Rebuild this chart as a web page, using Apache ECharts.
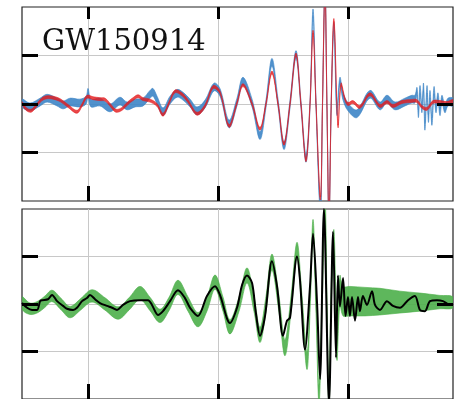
<!DOCTYPE html>
<html>
<head>
<meta charset="utf-8">
<script src="https://cdn.jsdelivr.net/npm/echarts@6/dist/echarts.min.js"></script>
<style>
  html, body { margin: 0; padding: 0; background: #fff; }
  #main { width: 465px; height: 399px; }
</style>
</head>
<body>
<div id="main"></div>
<script>
// time axis in ms (ticks only, labels are cut off in the figure)
const xTicks = [-200, -100, 0]
const yTicks = [-1, 0, 1]

// top panel, red trace
const redT = [-250.8, -247.7, -243.8, -240.0, -235.4, -231.5, -226.9, -221.5, -215.4, -208.5,
  -204.6, -200.8, -196.2, -190.8, -186.9, -182.3, -178.5, -173.8, -169.2, -165.4,
  -161.5, -157.7, -152.3, -146.9, -142.3, -137.7, -133.1, -127.7, -123.1, -116.2,
  -110.0, -103.8, -98.5, -91.5, -85.4, -80.8, -73.8, -67.7, -63.1, -58.5,
  -53.8, -49.2, -44.6, -40.0, -36.2, -32.3, -29.2, -26.9, -24.6, -21.2,
  -19.6, -17.7, -16.2, -14.6, -12.9, -10.8, -7.7, -5.4, -2.3, 0.0,
  3.8, 9.2, 16.9, 24.6, 30.0, 34.6, 41.5, 47.7, 53.1, 56.9,
  60.8, 65.4, 70.8, 76.2, 80.8]
const redY = [0.02, -0.10, -0.14, -0.04, 0.10, 0.14, 0.13, 0.08, -0.04, -0.16,
  -0.02, 0.15, 0.12, 0.10, 0.09, -0.04, -0.14, -0.10, 0.02, 0.10,
  0.16, 0.10, 0.07, -0.02, -0.22, 0.02, 0.26, 0.20, 0.06, -0.20,
  -0.04, 0.35, 0.24, -0.45, 0.02, 0.39, 0.00, -0.51, 0.00, 0.65,
  0.00, -0.82, 0.00, 1.02, 0.00, -1.16, 0.00, 1.49, 0.00, -1.95,
  0.00, 2.4, 0.00, -2.4, 0.00, 1.73, -0.45, 0.40, 0.10, 0.00,
  0.04, -0.06, 0.20, -0.04, 0.04, -0.04, 0.04, 0.06, 0.06, -0.06,
  -0.10, 0.04, 0.04, 0.02, 0.06]

// top panel, blue band (centre)
const blueT = [-250.8, -244.6, -236.9, -231.5, -223.8, -219.2, -213.8, -206.2, -201.5, -200.0,
  -197.7, -190.8, -183.1, -175.4, -170.0, -163.8, -157.7, -152.3, -150.0, -146.9,
  -142.3, -136.9, -131.5, -126.9, -121.5, -116.2, -110.0, -103.1, -98.5, -91.5,
  -85.4, -80.8, -73.8, -67.7, -63.1, -58.5, -53.8, -49.2, -44.6, -40.0,
  -36.2, -32.3, -29.2, -26.9, -24.6, -21.2, -19.6, -17.7, -16.2, -14.6,
  -12.9, -10.8, -8.5, -6.2, -3.8, 0.0, 6.9, 16.9, 24.6, 30.0,
  36.2, 43.8, 49.2, 51.5, 53.1, 54.2, 55.4, 56.9, 58.1, 59.2,
  60.8, 61.9, 63.1, 64.6, 66.2, 67.7, 69.2, 70.8, 72.3, 74.6,
  76.9, 80.8]
const blueY = [0.02, -0.06, 0.04, 0.12, 0.04, -0.02, 0.04, 0.02, 0.08, 0.24,
  0.02, 0.04, -0.08, 0.06, -0.04, 0.02, 0.04, 0.20, 0.24, 0.08,
  -0.16, 0.08, 0.22, 0.16, 0.02, -0.14, 0.00, 0.35, 0.24, -0.41,
  0.04, 0.47, 0.02, -0.65, 0.00, 0.86, 0.02, -0.86, 0.00, 1.02,
  0.00, -1.12, 0.00, 1.88, 0.00, -2.2, 0.00, 2.4, 0.00, -2.4,
  0.00, 1.6, -0.15, 0.47, 0.16, -0.06, -0.20, 0.20, -0.04, 0.10,
  -0.04, 0.04, 0.10, 0.10, 0.26, -0.20, 0.30, -0.10, 0.35, -0.46,
  0.30, -0.30, 0.20, -0.36, 0.28, -0.10, 0.15, -0.16, 0.10, -0.10,
  0.04, 0.04]

// bottom panel, green band (centre and half width)
const greenT = [-250.8, -244.6, -238.5, -233.1, -227.7, -220.8, -213.8, -205.4, -196.9, -186.9,
  -176.9, -168.5, -160.0, -152.3, -144.6, -137.7, -130.8, -123.1, -115.4, -108.5,
  -102.3, -96.2, -90.8, -83.8, -77.7, -72.3, -67.7, -63.1, -58.5, -53.1,
  -48.5, -43.8, -39.2, -35.4, -31.5, -29.2, -26.9, -24.6, -22.3, -20.0,
  -17.7, -16.2, -14.6, -13.1, -10.8, -8.5, -6.2, -3.8, 1.5, 13.1,
  24.6, 40.0, 55.4, 70.8, 80.8]
const greenY = [0.02, -0.10, -0.06, 0.05, 0.17, 0.00, -0.17, 0.00, 0.17, 0.00,
  -0.19, 0.00, 0.23, 0.00, -0.25, 0.00, 0.35, 0.00, -0.33, 0.00,
  0.46, 0.00, -0.48, 0.00, 0.60, 0.00, -0.65, 0.00, 0.88, 0.00,
  -0.92, 0.00, 1.13, 0.00, -1.2, 0.00, 1.6, 0.00, -1.9, 0.00,
  2.1, 0.00, -2.1, 0.00, 1.3, -0.9, 0.3, 0.06, 0.06, 0.05,
  0.05, 0.04, 0.04, 0.04, 0.035]
const greenW = [0.13, 0.12, 0.12, 0.12, 0.12, 0.12, 0.12, 0.12, 0.13, 0.13,
  0.13, 0.13, 0.14, 0.14, 0.14, 0.14, 0.15, 0.15, 0.15, 0.15,
  0.15, 0.15, 0.15, 0.15, 0.16, 0.16, 0.16, 0.16, 0.17, 0.17,
  0.17, 0.17, 0.17, 0.18, 0.18, 0.18, 0.18, 0.2, 0.2, 0.2,
  0.2, 0.2, 0.22, 0.24, 0.26, 0.28, 0.3, 0.31, 0.31, 0.30,
  0.28, 0.23, 0.19, 0.14, 0.115]

// bottom panel, black trace
const blackT = [-250.8, -246.9, -243.1, -239.2, -236.9, -235.4, -230.8, -227.7, -223.8, -219.2,
  -216.2, -211.5, -208.5, -204.6, -200.8, -198.5, -194.6, -190.8, -185.4, -181.5,
  -177.7, -173.1, -167.7, -160.0, -153.8, -150.8, -146.2, -142.3, -136.9, -130.8,
  -125.4, -121.5, -115.4, -108.5, -102.3, -98.5, -90.8, -85.4, -81.5, -77.7,
  -73.8, -70.8, -67.7, -63.8, -58.5, -54.6, -50.0, -46.9, -44.6, -39.2,
  -36.9, -33.1, -29.2, -26.9, -23.8, -21.5, -18.5, -14.6, -11.5, -9.2,
  -7.7, -6.2, -3.8, -1.9, 0.0, 1.5, 3.1, 5.4, 7.7, 9.2,
  11.5, 14.6, 18.5, 20.8, 24.6, 30.0, 34.6, 40.0, 46.2, 51.5,
  55.4, 59.2, 63.1, 68.5, 73.1, 78.5, 80.8]
const blackY = [0.02, -0.08, -0.125, -0.125, 0.06, 0.08, 0.10, 0.19, 0.06, -0.04,
  -0.10, -0.125, -0.08, 0.06, 0.125, 0.19, 0.10, 0.02, -0.04, -0.08,
  -0.125, -0.02, 0.06, 0.08, 0.08, -0.02, -0.23, -0.15, 0.06, 0.29,
  0.125, -0.08, -0.25, 0.17, 0.375, 0.19, -0.40, -0.08, 0.40, 0.60,
  0.44, -0.2, -0.67, -0.25, 0.90, 0.375, -0.67, -0.35, -0.29, 1.0,
  0.5, -0.96, 0.375, 1.48, 0.02, -1.58, 2.0, -2.1, 1.52, -1.125,
  0.6, -0.05, 0.55, -0.25, 0.15, -0.25, 0.15, -0.35, 0.15, -0.15,
  0.17, -0.02, 0.27, -0.02, -0.125, 0.06, -0.04, -0.08, 0.08, 0.17,
  -0.125, -0.15, 0.06, 0.08, 0.06, -0.02, 0.0]

const blueHalf = 0.08
const redHalf = 0.03

function band (ts, ys, half, color, opacity, xi, yi, z) {
  return {
    type: 'custom',
    xAxisIndex: xi,
    yAxisIndex: yi,
    clip: true,
    z: z,
    silent: true,
    data: [[0, 0]],
    renderItem: function (params, api) {
      let up = []
      let lo = []
      for (let i = 0; i < ts.length; i++) {
        let w = Array.isArray(half) ? half[i] : half
        up.push(api.coord([ts[i], ys[i] + w]))
        lo.push(api.coord([ts[i], ys[i] - w]))
      }
      return {
        type: 'polygon',
        shape: { points: up.concat(lo.reverse()), smooth: 0.35 },
        style: { fill: color, stroke: color, lineWidth: 0.7, opacity: opacity }
      }
    }
  }
}

const tickStyle = { color: '#000', width: 3 }
const gridLine = { show: true, lineStyle: { color: '#c8c8c8', width: 1 } }

function xAx (grid, pos, split, tickLen) {
  return {
    type: 'value', gridIndex: grid, position: pos, min: -250.8, max: 80.8,
    axisLine: { show: false, onZero: false },
    axisLabel: { show: false },
    axisTick: { show: tickLen > 0, inside: true, length: tickLen, lineStyle: tickStyle, customValues: xTicks },
    splitLine: split ? gridLine : { show: false }
  }
}
function yAx (grid, pos, split, tickLen, z) {
  return {
    type: 'value', gridIndex: grid, position: pos, min: -2, max: 2, z: z,
    axisLine: { show: false, onZero: false },
    axisLabel: { show: false },
    axisTick: { show: tickLen > 0, inside: true, length: tickLen, lineStyle: tickStyle, customValues: yTicks },
    splitLine: split ? gridLine : { show: false }
  }
}

let myChart = echarts.init(document.getElementById('main'), null, { renderer: 'canvas' })

let option = {
  animation: false,
  backgroundColor: '#fff',
  title: {
    text: 'GW150914',
    left: 42,
    top: 28,
    padding: 0,
    textStyle: { fontFamily: 'DejaVu Serif', fontSize: 29, fontWeight: 'normal', color: '#111' }
  },
  grid: [
    { left: 22, right: 12, top: 7, height: 194, show: true, borderColor: '#222', borderWidth: 1.2, backgroundColor: 'transparent' },
    { left: 22, right: 12, top: 209, height: 194, show: true, borderColor: '#222', borderWidth: 1.2, backgroundColor: 'transparent' }
  ],
  xAxis: [
    xAx(0, 'bottom', true, 15),
    xAx(0, 'top', false, 12),
    xAx(1, 'bottom', true, 15)
  ],
  yAxis: [
    yAx(0, 'left', true, 0, 0),
    yAx(0, 'left', false, 16, 10),
    yAx(0, 'right', false, 16, 10),
    yAx(1, 'left', true, 0, 0),
    yAx(1, 'left', false, 16, 10),
    yAx(1, 'right', false, 16, 10)
  ],
  series: [
    band(blueT, blueY, blueHalf, '#3d85c6', 0.9, 0, 0, 2),
    band(redT, redY, redHalf, '#e41a1c', 0.8, 0, 0, 3),
    band(greenT, greenY, greenW, '#4daf4a', 0.9, 2, 3, 2),
    {
      type: 'line',
      xAxisIndex: 2,
      yAxisIndex: 3,
      z: 3,
      data: blackT.map((t, i) => [t, blackY[i]]),
      showSymbol: false,
      symbol: 'none',
      smooth: 0.3,
      clip: true,
      lineStyle: { color: '#000', width: 2 }
    }
  ]
}
myChart.setOption(option)
</script>
</body>
</html>
